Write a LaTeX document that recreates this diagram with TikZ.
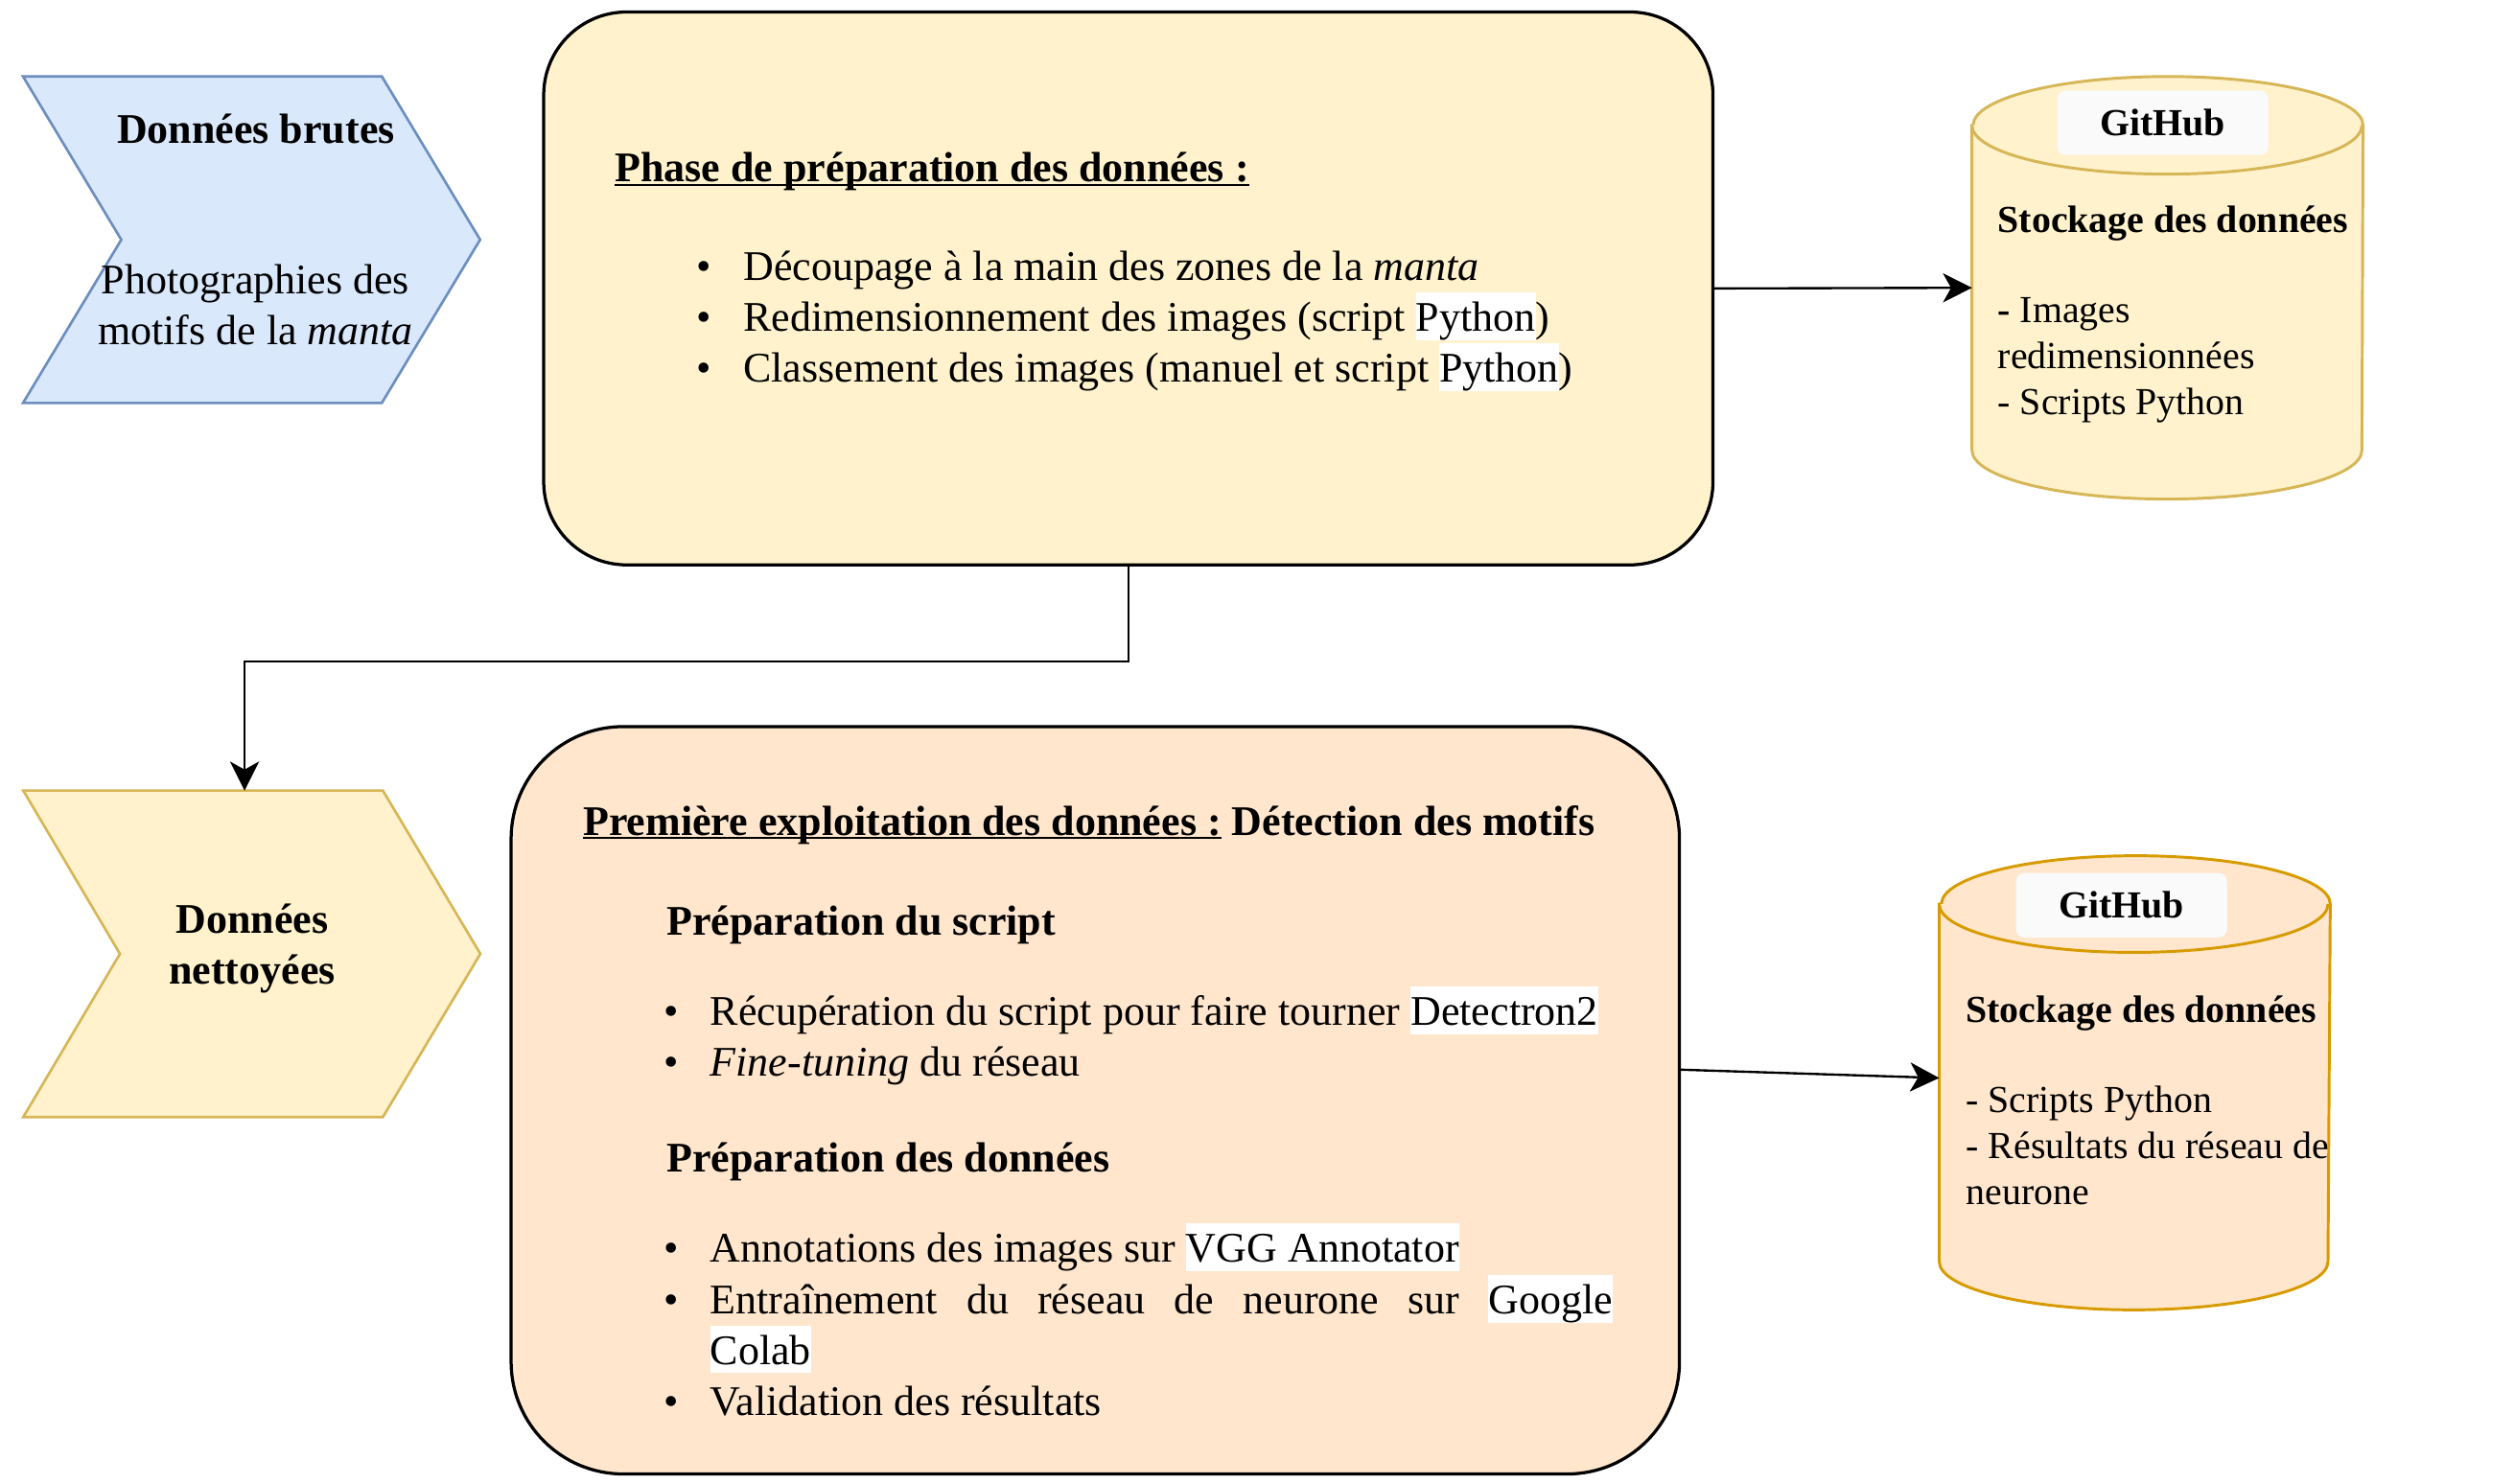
\documentclass[tikz,border=0pt]{standalone}
\usepackage{fontspec}
\setmainfont{Liberation Serif}
\usetikzlibrary{arrows.meta,backgrounds}

\definecolor{bleuFond}{HTML}{DAE8FC}
\definecolor{bleuTrait}{HTML}{6C8EBF}
\definecolor{jauneFond}{HTML}{FFF2CC}
\definecolor{jauneTrait}{HTML}{D6B656}
\definecolor{orangeFond}{HTML}{FFE6CC}
\definecolor{orangeTrait}{HTML}{D79B00}
\definecolor{grisEtiquette}{HTML}{FAFAFA}

\newcommand{\souligne}[1]{{\setbox0\hbox{#1}\rlap{\rule[-1.35pt]{\wd0}{0.65pt}}\box0}}
\newcommand{\surligne}[1]{{\setlength{\fboxsep}{0pt}\colorbox{white}{\rule[-3.1pt]{0pt}{16.8pt}#1}}}
\newcommand{\puce}{\hspace*{-0.58cm}\makebox[0.58cm][l]{\textbullet}}

\tikzset{
  texte/.style={inner sep=0pt, font=\fontsize{14.9}{18}\selectfont},
  texte cuve/.style={inner sep=0pt, font=\fontsize{13.5}{16.3}\selectfont},
  boite/.style={rectangle, draw=black, line width=1.1pt, inner sep=0pt},
  etape/.style={inner sep=0pt, minimum width=5.66cm, minimum height=4.04cm},
  depot/.style={inner sep=0pt, minimum width=4.84cm},
  etiquette/.style={fill=grisEtiquette, rounded corners=0.1cm, minimum width=2.62cm,
    minimum height=0.8cm, inner sep=0pt, font=\fontsize{13.5}{16}\selectfont\bfseries},
  pointe bleue/.style={fill=bleuFond, draw=bleuTrait, line width=0.9pt},
  pointe jaune/.style={fill=jauneFond, draw=jauneTrait, line width=0.9pt},
  cuve jaune/.style={fill=jauneFond, draw=jauneTrait, line width=1pt},
  cuve orange/.style={fill=orangeFond, draw=orangeTrait, line width=1pt},
  fleche/.style={-{Stealth[length=0.36cm,width=0.36cm,inset=0.1cm]}, line width=0.8pt},
}

\begin{document}
\begin{tikzpicture}[x=0.02cm, y=-0.02cm]
  \useasboundingbox (0,0) rectangle (1560,921);

  \node[name=brutes, etape] at (156.1,148.75) {};
  \node[name=nettoyees, etape] at (156.25,591.95) {};
  \node[name=preparation, boite, fill=jauneFond, rounded corners=1.03cm,
    minimum width=14.514cm, minimum height=6.864cm] at (700.15,179) {};
  \node[name=exploitation, boite, fill=orangeFond, rounded corners=1.39cm,
    minimum width=14.502cm, minimum height=9.278cm] at (679.65,682.85) {};
  \node[name=depot1, depot, minimum height=5.232cm] at (1345,178.6) {};
  \node[name=depot2, depot, minimum height=5.624cm] at (1324.65,672) {};

  \begin{scope}[on background layer]
    \draw[pointe bleue] (brutes.north west) -- ([xshift=-1.22cm]brutes.north east) -- (brutes.east)
      -- ([xshift=-1.22cm]brutes.south east) -- (brutes.south west) -- ([xshift=1.22cm]brutes.west) -- cycle;
    \draw[pointe jaune] (nettoyees.north west) -- ([xshift=-1.21cm]nettoyees.north east) -- (nettoyees.east)
      -- ([xshift=-1.21cm]nettoyees.south east) -- (nettoyees.south west) -- ([xshift=1.2cm]nettoyees.west) -- cycle;

    \draw[cuve jaune] ([yshift=-0.606cm]depot1.north west) -- ([yshift=0.606cm]depot1.south west)
      arc[start angle=180, end angle=360, x radius=2.42cm, y radius=0.606cm]
      -- ([yshift=-0.606cm]depot1.north east)
      arc[start angle=0, end angle=180, x radius=2.42cm, y radius=0.606cm] -- cycle;
    \draw[cuve jaune] ([yshift=-0.606cm]depot1.north west)
      arc[start angle=180, end angle=360, x radius=2.42cm, y radius=0.606cm];

    \draw[cuve orange] ([yshift=-0.6cm]depot2.north west) -- ([yshift=0.6cm]depot2.south west)
      arc[start angle=180, end angle=360, x radius=2.413cm, y radius=0.6cm]
      -- ([yshift=-0.6cm]depot2.north east)
      arc[start angle=0, end angle=180, x radius=2.413cm, y radius=0.6cm] -- cycle;
    \draw[cuve orange] ([yshift=-0.6cm]depot2.north west)
      arc[start angle=180, end angle=360, x radius=2.413cm, y radius=0.6cm];
  \end{scope}

  \node[name=github1, etiquette] at (1342,76.2) {GitHub};
  \node[name=github2, etiquette] at (1316.4,561.8) {GitHub};

  \node[name=brutesTitre, texte, anchor=base] at (158.8,89) {\textbf{Données brutes}};
  \node[name=brutesTexte, texte, anchor=base, align=center] at (158.5,213.8)
    {Photographies des\\motifs de la \textit{manta}};
  \node[name=nettoyeesTexte, texte, anchor=base, align=center] at (156.5,610.6)
    {\textbf{Données}\\\textbf{nettoyées}};

  \node[name=prepTitre, texte, anchor=base west] at (381.3,112.9)
    {\textbf{\souligne{Phase de préparation des données :}}};
  \node[name=prepListe, texte, anchor=base west, text width=12cm, align=justify] at (432,174)
    {\leftskip=0.58cm
     \puce Découpage à la main des zones de la \textit{manta}\par
     \puce Redimensionnement des images (script \surligne{Python})\par
     \puce Classement des images (manuel et script \surligne{Python})\par};

  \node[name=explTitre, texte, anchor=base west] at (361.5,518.4)
    {\textbf{\souligne{Première exploitation des données :} Détection des motifs}};
  \node[name=explScript, texte, anchor=base west] at (413.3,580.6) {\textbf{Préparation du script}};
  \node[name=explListe1, texte, anchor=base west, text width=11.78cm, align=justify] at (411.4,636.4)
    {\leftskip=0.58cm
     \puce Récupération du script pour faire tourner \surligne{Detectron2}\par
     \puce \textit{Fine-tuning} du réseau\par};
  \node[name=explDonnees, texte, anchor=base west] at (413.3,727.4) {\textbf{Préparation des données}};
  \node[name=explListe2, texte, anchor=base west, text width=11.78cm, align=justify] at (411.4,783.5)
    {\leftskip=0.58cm
     \puce Annotations des images sur \surligne{VGG Annotator}\par
     \puce Entraînement du réseau de neurone sur \surligne{Google}\linebreak \surligne{Colab}\par
     \puce Validation des résultats\par};

  \node[name=depot1Texte, texte cuve, anchor=base west, align=left] at (1239.4,257.6)
    {\textbf{Stockage des données}\\[15.7pt]\textbf{-} Images\\redimensionnées\\- Scripts Python};
  \node[name=depot2Texte, texte cuve, anchor=base west, align=left] at (1219.6,747.5)
    {\textbf{Stockage des données}\\[15.5pt]- Scripts Python\\- Résultats du réseau de\\neurone};

  \draw[fleche] (preparation.east) -- (depot1.west);
  \draw[fleche] (preparation.south) |- ([xshift=-0.09cm,yshift=1.6cm]nettoyees.north)
    -- ([xshift=-0.09cm]nettoyees.north);
  \draw[fleche] ([yshift=0.38cm]exploitation.east) -- ([yshift=0.06cm]depot2.west);
\end{tikzpicture}
\end{document}
